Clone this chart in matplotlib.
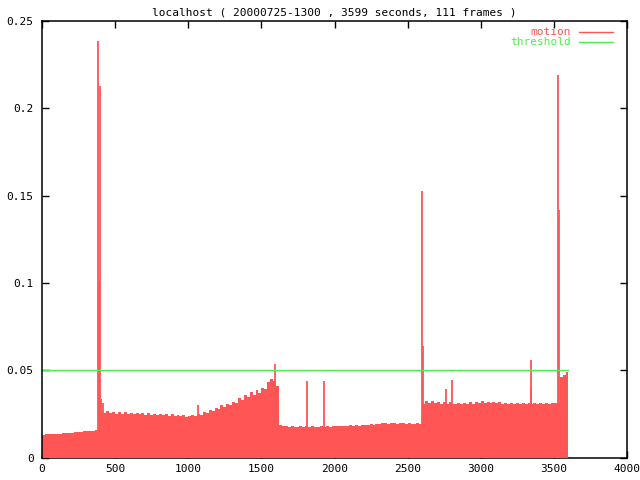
"""Grafico motion / threshold stile gnuplot"""

import numpy as np
from matplotlib import pyplot as plt

# Dati: livello medio ogni 20 secondi (inizio intervallo 0, 20, ..., 3580)
passo = 20
livelli = [
    0.0130, 0.0133, 0.0132, 0.0135, 0.0134, 0.0137, 0.0136, 0.0139, 0.0141, 0.0140,
    0.0143, 0.0146, 0.0144, 0.0148, 0.0150, 0.0149, 0.0153, 0.0152, 0.0156,
    0.0262,
    0.0268, 0.0256, 0.0264, 0.0253, 0.0261, 0.0252, 0.0259, 0.0250, 0.0258, 0.0251,
    0.0257, 0.0248, 0.0256, 0.0247, 0.0254, 0.0245, 0.0253, 0.0244, 0.0252, 0.0243,
    0.0251, 0.0241, 0.0249, 0.0239, 0.0247, 0.0237, 0.0245, 0.0235, 0.0243, 0.0234,
    0.0237, 0.0244, 0.0236, 0.0248, 0.0246, 0.0258, 0.0255, 0.0270, 0.0266, 0.0284,
    0.0280, 0.0298, 0.0292, 0.0308, 0.0300, 0.0318, 0.0312, 0.0340, 0.0332, 0.0358,
    0.0348, 0.0374, 0.0360, 0.0388, 0.0372, 0.0398, 0.0390, 0.0430, 0.0452, 0.0436,
    0.0410,
    0.0184, 0.0178, 0.0182, 0.0175, 0.0181, 0.0177, 0.0174, 0.0180, 0.0176, 0.0181,
    0.0175, 0.0180, 0.0176, 0.0174, 0.0179, 0.0175, 0.0180, 0.0177, 0.0181, 0.0178,
    0.0182, 0.0179, 0.0183, 0.0180, 0.0184, 0.0181, 0.0185, 0.0182, 0.0187, 0.0189,
    0.0186, 0.0191, 0.0188, 0.0193, 0.0190, 0.0196, 0.0197, 0.0194, 0.0198, 0.0195,
    0.0194, 0.0198, 0.0195, 0.0194, 0.0197, 0.0194, 0.0193, 0.0196, 0.0194,
    0.0305, 0.0325, 0.0313, 0.0322, 0.0310, 0.0320, 0.0308, 0.0318, 0.0307, 0.0316,
    0.0309, 0.0306, 0.0315, 0.0307, 0.0314, 0.0308, 0.0317, 0.0309, 0.0319, 0.0311,
    0.0321, 0.0313, 0.0320, 0.0311, 0.0318, 0.0310, 0.0317, 0.0309, 0.0315, 0.0307,
    0.0314, 0.0306, 0.0313, 0.0307, 0.0314, 0.0308, 0.0313, 0.0307, 0.0313, 0.0308,
    0.0314, 0.0307, 0.0313, 0.0308, 0.0314, 0.0315, 0.0318,
    0.0460, 0.0470, 0.0490,
]

# Picchi isolati (secondi, valore)
picchi_t = [383, 389, 395, 405, 418, 1070, 1594, 1812, 1928, 2598, 2606,
            2765, 2806, 3342, 3346, 3531, 3537]
picchi_v = [0.2386, 0.1010, 0.2125, 0.0335, 0.0310, 0.0300, 0.0534, 0.0440,
            0.0441, 0.1525, 0.0640, 0.0390, 0.0443, 0.0405, 0.0557, 0.2188, 0.1420]

soglia = 0.05
durata = 3599
titolo = "localhost ( 20000725-1300 , 3599 seconds, 111 frames )"
y_ticks = [0, 0.05, 0.1, 0.15, 0.2, 0.25]
y_labels = ["0", "0.05", "0.1", "0.15", "0.2", "0.25"]
x_ticks = [0, 500, 1000, 1500, 2000, 2500, 3000, 3500, 4000]

rosso = "#ff5555"
verde = "#4cf04c"

plt.rcParams["font.family"] = "DejaVu Sans Mono"

fig = plt.figure(figsize=(6.4, 4.8), dpi=100)
ax = fig.add_axes([42 / 640, 22.5 / 480, 585 / 640, 436.5 / 480])

tempi = np.arange(len(livelli)) * passo
ax.bar(tempi, livelli, width=passo, align="edge", color=rosso, linewidth=0, zorder=3)
ax.vlines(picchi_t, 0, picchi_v, color=rosso, linewidth=1.3, zorder=3)
ax.plot([0, durata], [soglia, soglia], color=verde, linewidth=1.0, zorder=4)

ax.set_xlim(0, 4000)
ax.set_ylim(0, 0.25)
ax.set_xticks(x_ticks)
ax.set_yticks(y_ticks)
ax.set_yticklabels(y_labels)
ax.tick_params(direction="in", length=5, width=1, top=True, right=True, labelsize=8)
ax.tick_params(axis="y", pad=6)
ax.tick_params(axis="x", pad=5)
for s in ax.spines.values():
    s.set_linewidth(1.1)
    s.set_zorder(5)
ax.spines["bottom"].set_zorder(2)

ax.set_title(titolo, fontsize=8, pad=4)

# Legenda manuale alla gnuplot (testo allineato a destra, linea a destra)
for i, (nome, col) in enumerate([("motion", rosso), ("threshold", verde)]):
    yy = 0.9755 - i * 0.0245
    ax.text(0.904, yy, nome, color=col, fontsize=8, ha="right", va="center",
            transform=ax.transAxes)
    ax.plot([0.918, 0.976], [yy, yy], color=col, linewidth=1.0, transform=ax.transAxes)

fig.savefig("out.png", dpi=100)
